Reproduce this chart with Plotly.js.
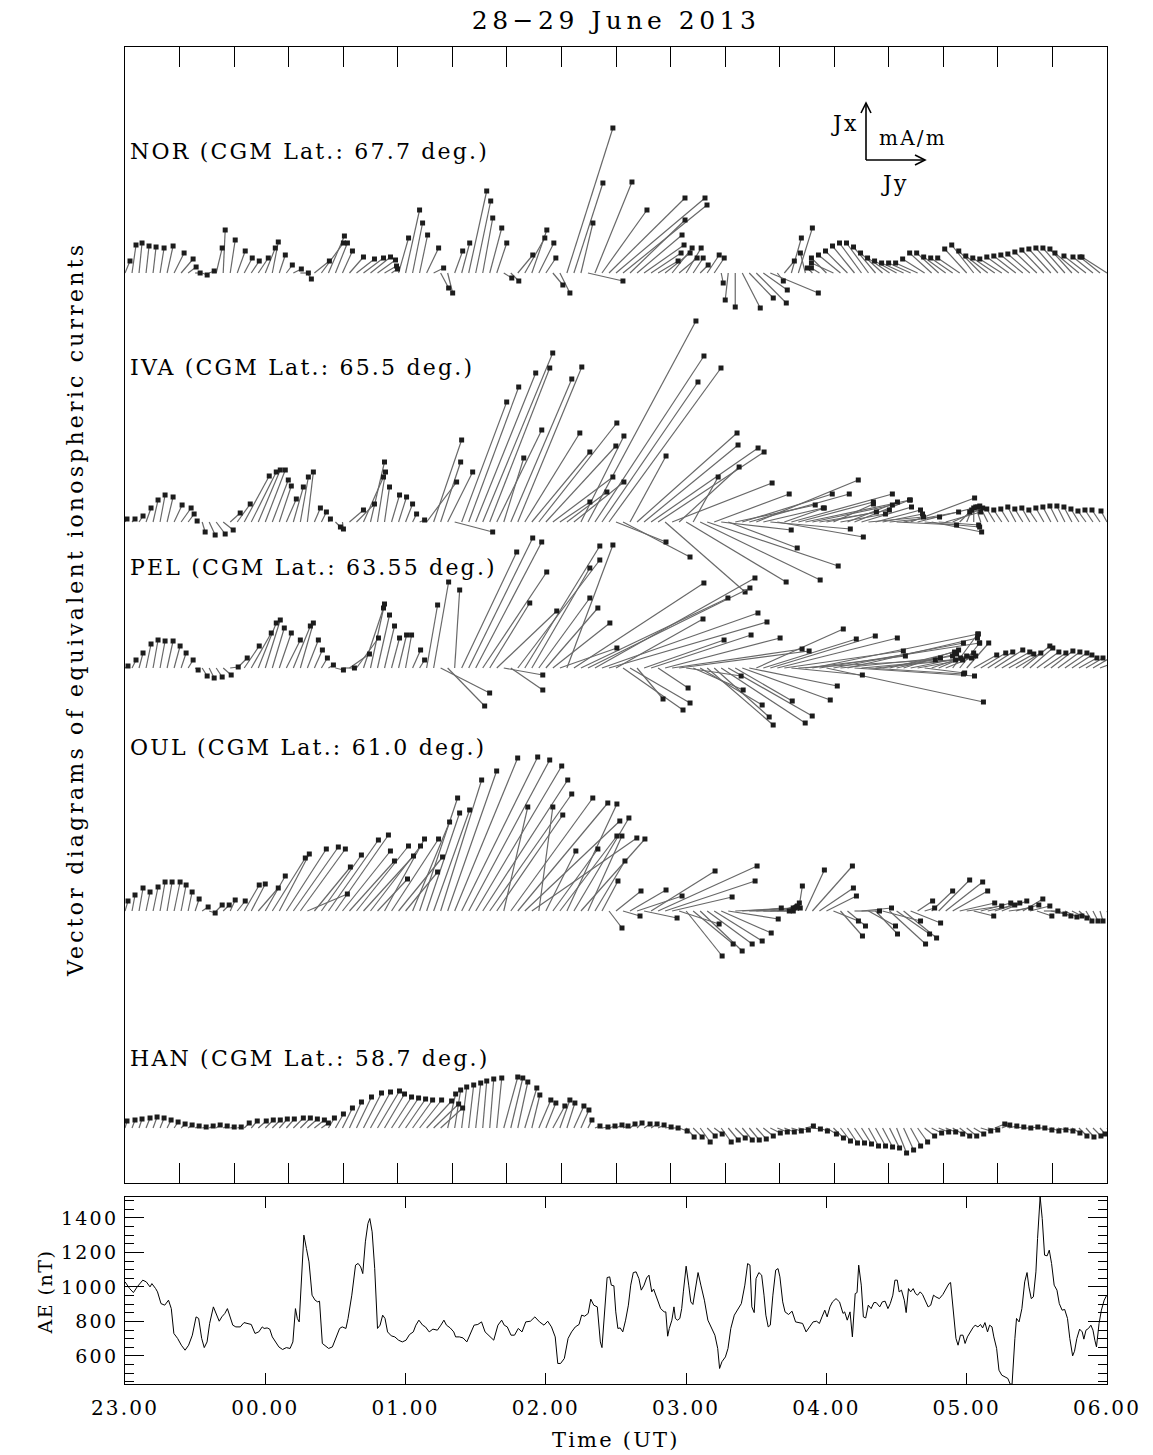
<!DOCTYPE html>
<html><head><meta charset="utf-8">
<script src="https://cdn.plot.ly/plotly-3.0.1.min.js"></script>
<style>
body{margin:0;background:#fff}
svg text{letter-spacing:2.2px}
.xtick text{letter-spacing:1.5px}
.ytick text{letter-spacing:0px}
</style>
</head><body>
<div id="chart" style="width:1153px;height:1455px"></div>
<script>
// ---------- DATA ----------
// sample times, minutes after 23:00 UT (28 June)
const TIMES = [0,3,6,9,12,15,18,21,24,27,30,33,36,39,42,45,48,51,54,57,60,63,66,69,72,75,78,81,84,87,90,93,96,99,102,105,108,111,114,117,120,123,126,129,132,135,138,141,144,147,150,153,156,159,162,165,168,171,174,177,180,183,186,189,192,195,198,201,204,207,210,213,216,219,222,225,228,231,234,237,240,243,246,249,252,255,258,261,264,267,270,273,276,279,282,285,288,291,294,297,300,303,306,309,312,315,318,321,324,327,330,333,336,339,342,345,348,351,354,357,360,363,366,369,372,375,378,381,384,387,390,393,396,399,402,405,408,411,414,417,420];

const STATION_LABELS = ['NOR (CGM Lat.: 67.7 deg.)','IVA (CGM Lat.: 65.5 deg.)','PEL (CGM Lat.: 63.55 deg.)','OUL (CGM Lat.: 61.0 deg.)','HAN (CGM Lat.: 58.7 deg.)'];

// equivalent current vectors (plot units): Jx = northward (up), Jy = eastward (right)
const NOR_JX = [12,28,30,27,26,25,27,20,14,6, 0,-2,2,25,43,33,22,15,12,15, 25,31,18,8,4,0,-6,12,30,37, 30,22,16,14,15,16,13,7,4,35, 63,50,38,25,5,-15,-20,22,30,82, 72,55,45,30,-5,-8,18,35,43,30, 15,-12,-20,145,90,50,-8,91,63,75, 75,68,53,38,28,20,12,20,25,15, 25,15,8,18,15,-10,-27,-34,-35,-25, -30,-17,-20,-8,12,35,45,20,5,5, 15,10,18,22,27,30,30,26,20,15, 12,10,10,10,14,20,20,16,15,15, 24,28,22,17,15,14,16,17,18,19, 21,23,24,25,25,24,20,17,16,16, 16];
const NOR_JY = [5,4,3,3,3,4,6,10,12,8, 5,5,5,6,2,5,8,8,8,10, 10,6,6,6,8,8,4,15,22,16, 12,10,14,18,20,20,18,12,6,10, 14,10,8,12,10,8,5,8,8,18, 15,10,12,10,8,8,15,20,15,15, 10,10,10,46,29,12,35,37,45,76, 89,84,55,45,40,30,20,25,20,18, 15,10,8,12,10,2,-3,0,18,24, 30,24,48,6,10,10,14,-5,-5,-8, -15,-22,-22,-22,-22,-22,-22,-22,-22,-22, -22,-22,-22,-22,-22,-22,-22,-22,-22,-22, -22,-22,-22,-22,-22,-22,-22,-22,-22,-22, -22,-22,-22,-22,-22,-22,-24,-22,-20,-20, -25];

const IVA_JX = [3,3,6,14,22,27,25,17,14,8, 1,-10,-13,-12,-8,9,18,46,50,52, 52,42,36,23,35,45,50,14,10,3, -5,-7,12,18,45,60,50,35,27,25, 18,8,2,40,82,60,50,-10,120,135, 149,169,154,92,64,143,155,89,70,99, 76,45,20,30,40,86,201,166,140,154, -20,-35,66,89,77,74,70,-70,39,55, -60,45,-58,-44,28,-8,-26,17,28,28, 42,14,-7,-15,14,28,20,22,17,12, 10,18,8,20,22,15,5,12,8,5, -3,10,24,15,-5,-10,-3,10,14,10, 12,14,15,16,13,12,13,15,13,14, 12,14,15,16,16,15,13,11,12,12, 11];
const IVA_JY = [2,3,4,5,5,5,6,8,10,6, 2,3,6,9,10,10,13,25,25,22, 20,16,12,10,10,8,6,6,5,2, 5,1,14,18,20,14,8,5,8,8, 7,4,5,30,28,20,25,38,45,50, 60,70,60,45,20,61,64,55,58,78, 70,60,30,40,50,43,108,109,96,112, 50,67,36,100,94,107,106,80,100,60, 100,25,120,131,75,70,69,80,90,100, 102,60,80,86,40,101,75,105,80,70, 50,40,45,50,55,50,55,45,40,50, 60,55,64,60,55,50,40,35,30,10, 5,0,-5,-8,-8,-8,-8,-8,-8,-8, -8,-8,-8,-8,-8,-8,-8,-8,-8,-8, -6];

const PEL_JX = [2,8,15,24,28,27,27,22,15,8, -2,-8,-10,-9,-7,1,10,22,35,45, 48,40,35,28,42,45,28,18,10,3, -2,0,14,30,60,64,53,42,30,33, 33,18,8,63,86,-25,-38,78,116,130, 126,96,65,57,-7,-22,108,122,100,70, 60,45,20,123,85,70,80,90,55,46, 49,-42,-35,-31,28,33,-20,30,19,17, -8,-22,-37,-57,-49,-55,-48,-33,-32,-18, 39,29,32,30,17,-7,8,12,34,25, -34,25,10,30,-8,10,-6,8,12,16, 14,18,10,8,-5,12,15,12,34,25, 25,13,15,16,18,16,14,15,22,20, 16,15,17,16,15,13,10,10,10,7, 8];
const PEL_JY = [3,4,4,5,5,5,6,6,5,5, 3,5,5,6,8,8,10,15,20,18, 15,12,12,14,17,13,11,8,6,5, 8,12,20,22,20,14,12,10,8,8, 6,8,5,11,15,49,37,5,55,64, 66,64,40,60,39,32,82,75,58,51, 52,57,57,46,130,147,162,160,156,158, 87,60,60,26,80,100,30,115,130,130, 55,50,62,66,55,84,84,57,88,88, 87,93,105,120,119,71,137,100,166,160, 157,130,100,130,120,110,95,80,70,65, 60,55,50,45,40,35,35,30,25,20, 22,23,25,25,28,28,25,25,27,23, 22,22,22,22,22,20,18,17,17,18, 21];

const OUL_JX = [10,16,23,19,24,29,29,29,26,19, 12,4,-2,6,6,11,10,26,27,23, 35,53,57,62,64,62,17,44,56,71, 76,60,50,65,55,65,32,72,72,54, 39,89,113,98,101,131,140,153,154,151, 145,131,117,96,104,113,108,90,73,104, 60,62,75,107,93,72,75,50,30,-17, 20,-5,21,15,-7,40,45,30,14,-13, -45,-33,-40,-33,-30,-22,-8,3,3,0, 3,0,3,5,8,4,25,41,45,23, 15,-10,-25,-15,0,3,-15,-23,-10,-33, -23,-27,-12,10,3,20,31,29,20,8, 5,-5,8,6,8,10,3,6,12,5, -5,0,-3,-5,-6,-5,-7,-10,-10,-10, -5];
const OUL_JY = [3,3,4,4,5,5,5,6,5,4, 4,6,6,6,6,5,8,15,14,20, 20,33,30,40,45,45,40,36,40,50, 53,48,45,52,50,50,30,40,47,44, 32,37,38,33,36,41,49,63,76,81, 86,85,82,66,24,82,90,95,105,14, 30,45,57,50,55,64,34,30,16,13, 25,17,36,45,33,64,99,90,60,40, 36,40,42,45,48,50,50,58,58,40, 25,30,25,20,15,5,4,19,40,34, 30,25,22,18,25,30,27,22,38,36, 33,33,30,15,10,21,31,37,35,35, 35,20,30,27,25,25,22,23,20,20, 15,14,14,13,12,10,8,6,5,3, 2];

const HAN_JX = [7,8,9,10,11,10,8,6,4,3, 2,1,2,3,2,1,1,5,7,7, 8,8,9,9,10,10,9,8,5,10, 14,20,26,31,35,36,37,34,31,30, 29,28,28,27,24,20,34,38,41,43, 45,47,49,50,51,50,46,40,33,28, 25,22,28,25,22,18,8,2,1,2, 3,2,4,5,4,4,3,1,0,-3, -9,-9,-14,-8,-6,-14,-12,-10,-12,-12, -11,-8,-5,-4,-4,-3,-2,2,-1,-3, -6,-10,-13,-15,-15,-16,-18,-18,-19,-20, -25,-22,-18,-14,-8,-5,-4,-4,-6,-8, -8,-6,-3,-2,4,3,2,1,0,1, 0,-2,-3,-2,-3,-5,-8,-9,-8,-6, -5];
const HAN_JY = [2,3,3,4,4,4,4,4,4,4, 4,4,4,4,4,4,4,5,6,8, 8,8,8,8,10,10,10,10,7,6, 8,10,12,15,18,20,22,20,20,20, 20,20,22,25,25,22,8,6,5,5, 5,4,4,5,14,12,10,12,8,12, 10,12,10,8,10,8,4,5,6,6, 6,5,5,5,6,6,6,6,6,8, 8,9,10,8,8,10,10,10,10,10, 10,10,10,10,10,10,10,8,8,8, 10,10,10,10,10,10,10,10,10,10, 10,10,10,10,10,10,10,10,10,10, 10,10,10,10,10,8,8,8,8,8, 8,8,8,8,8,8,8,8,8,5, 3];

// AE index (nT), time in minutes after 23:00 UT
const AE_T = [0,2.0,3.6,5.2,7.6,9.1,10.7,11.5,13.1,13.9,15.4,17.0,18.6,19.8,20.9,22.5,24.1,25.7,27.2,28.8,30.4,31.5,32.8,33.9,35.1,36.2,37.8,39.1,40.3,41.4,42.7,43.8,45.0,46.1,47.4,49.3,50.9,52.4,54.0,55.6,57.2,58.7,59.5,60.8,61.9,63.0,64.3,65.8,67.4,69.0,70.6,71.8,72.9,73.7,74.5,75.6,76.5,77.6,78.7,80.0,81.3,82.4,83.2,84.4,85.5,87.1,88.7,90.2,91.8,92.9,94.5,95.4,97.0,98.6,99.7,100.8,101.7,102.8,103.9,104.7,105.7,106.8,108.0,109.1,110.2,111.2,112.3,113.9,115.4,117.0,118.6,120.2,121.7,123.3,124.4,125.7,127.3,128.5,130.1,131.7,133.6,135.1,136.4,137.5,139.1,140.6,141.4,143.0,144.6,146.2,147.7,149.3,150.9,152.5,154.0,155.6,157.7,159.5,161.1,162.2,163.5,165.1,166.6,168.2,169.8,171.4,173.4,175.3,177.3,179.2,180.8,182.4,184.0,185.1,186.3,187.9,189.5,191.0,192.6,194.2,195.3,196.6,198.1,199.2,200.5,202.0,203.3,204.0,205.0,206.2,207.3,208.0,209.1,209.9,210.8,211.8,212.9,214.1,215.3,216.3,217.4,218.6,219.8,220.8,222.0,223.1,224.1,225.3,226.1,226.8,227.9,229.1,230.6,231.3,232.1,232.8,233.9,234.8,235.4,236.3,237.3,238.1,238.8,240.0,241.1,242.0,242.9,244.1,245.1,246.3,247.8,249.3,250.8,252.3,253.5,254.3,255.3,256.8,257.9,259.1,260.6,262.1,263.6,265.1,266.3,267.3,268.1,269.1,269.9,271.1,272.3,273.3,274.1,275.1,276.0,277.1,278.3,279.3,280.1,281.3,282.3,283.8,285.3,286.8,288.3,289.8,291.3,292.8,294.3,295.8,297.0,298.1,299.3,300.3,301.5,302.6,304.1,305.6,307.1,307.8,308.9,310.1,311.1,312.3,313.1,313.8,314.9,315.8,316.8,317.9,319.1,320.3,321.3,322.8,323.9,325.1,326.3,327.3,328.4,329.3,330.3,331.1,332.1,333.3,334.1,335.1,336.0,337.1,338.1,339.0,340.1,341.1,342.3,343.5,344.6,345.8,346.8,348.3,349.8,351.3,352.4,353.1,354.3,355.4,356.3,357.3,358.4,359.3,360.3,361.4,362.6,363.6,364.8,365.9,366.8,367.8,368.9,369.8,370.8,371.6,372.8,373.8,375.0,376.4,377.6,378.6,379.4,380.6,381.3,382.4,383.6,384.8,385.8,386.6,387.6,388.5,389.6,390.3,391.4,392.3,393.3,394.4,395.3,396.3,397.4,398.6,399.6,400.8,401.9,403.1,404.1,405.3,406.1,407.1,408.3,409.4,410.1,411.0,412.1,413.1,414.0,414.8,415.5,416.6,417.6,418.8,419.9];
const AE_V = [1029,990,967,1000,1039,1029,1000,1019,990,971,903,894,923,874,730,701,662,633,662,720,826,817,701,648,681,788,884,836,801,826,846,874,826,778,768,768,793,788,782,730,739,768,759,762,755,710,681,652,637,648,643,681,874,817,797,1068,1300,1222,1145,952,923,913,917,672,662,643,652,701,759,768,759,817,952,1126,1136,1116,1077,1261,1367,1396,1319,1106,759,778,836,817,739,716,710,691,681,691,724,739,778,807,778,768,739,755,749,778,807,778,762,739,710,710,704,681,730,778,782,797,739,720,691,778,807,778,768,720,720,759,739,797,801,826,797,778,801,768,710,556,556,585,701,739,768,782,836,830,846,929,894,884,681,648,817,1054,1058,1010,1006,855,759,762,739,807,894,1010,1083,1087,1048,981,1010,1052,1068,971,987,961,923,874,855,855,714,759,807,884,817,807,817,874,971,1120,1010,913,898,1010,1083,1010,923,807,768,720,643,527,566,594,643,759,836,874,903,1010,1135,1126,884,851,1048,1083,1068,952,836,768,778,952,1097,1106,1058,913,855,840,859,797,791,788,739,768,797,801,788,826,865,826,884,913,932,913,846,855,807,855,710,961,967,1126,1010,826,820,894,874,909,909,884,913,917,874,903,952,1039,1039,971,981,923,851,990,971,990,961,952,971,956,923,884,894,952,942,932,956,990,1019,1025,855,701,662,720,720,672,710,739,762,778,768,782,762,793,739,778,768,710,643,517,488,478,469,436,436,701,817,797,874,1029,1083,1000,932,942,1087,1280,1522,1396,1184,1180,1213,1135,1010,981,903,865,869,817,701,600,627,701,755,739,697,749,759,778,749,691,652,788,865,923,952];

const HOUR_TICKS = [0,60,120,180,240,300,360,420];
const HOUR_LABELS = ['23.00','00.00','01.00','02.00','03.00','04.00','05.00','06.00'];
const AE_TICKS = [600,800,1000,1200,1400];

// ---------- GEOMETRY / STYLE ----------
const W = 1153, H = 1455;
const PX0 = 125, PX1 = 1107;                 // plot left/right (px)
const TOP_Y0 = 47, TOP_Y1 = 1183;            // vector panel top/bottom (px)
const AE_Y0 = 1197, AE_Y1 = 1384;            // AE panel top/bottom (px)
const XDOM = [PX0 / W, PX1 / W];
const KX = 420 / (PX1 - PX0);                // minutes per vector unit (equal aspect)
const BASE = [910, 661, 515, 272, 55];       // station baselines (vector panel y units)
const LABEL_Y = [152, 367, 568, 748, 1058];  // station label centres (px)
const FONT = 'DejaVu Serif, Liberation Serif, serif';

const STATIONS = [[NOR_JX, NOR_JY], [IVA_JX, IVA_JY], [PEL_JX, PEL_JY], [OUL_JX, OUL_JY], [HAN_JX, HAN_JY]];

const traces = [];
STATIONS.forEach(([jx, jy], s) => {
  const b = BASE[s];
  const lx = [], ly = [], mx = [], my = [];
  for (let i = 0; i < TIMES.length; i++) {
    const t = TIMES[i];
    const ex = t + jy[i] * KX, ey = b + jx[i];
    lx.push(t, ex, null); ly.push(b, ey, null);
    mx.push(ex); my.push(ey);
  }
  traces.push({type: 'scatter', mode: 'lines', x: lx, y: ly, xaxis: 'x', yaxis: 'y',
    line: {color: '#686868', width: 1.2}, hoverinfo: 'skip', showlegend: false});
  traces.push({type: 'scatter', mode: 'markers', x: mx, y: my, xaxis: 'x', yaxis: 'y',
    marker: {symbol: 'square', size: 5, color: '#1c1c1c', line: {width: 0}},
    cliponaxis: false, hoverinfo: 'skip', showlegend: false});
});
traces.push({type: 'scatter', mode: 'lines', x: AE_T, y: AE_V, xaxis: 'x2', yaxis: 'y2',
  line: {color: '#000', width: 1}, hoverinfo: 'skip', showlegend: false});

const topTicks = [];
for (let k = 1; k < 18; k++) topTicks.push(420 * k / 18);

const P = (px, py) => [px / W, 1 - py / H];
const annotations = [];
function ann(text, px, py, size, opts) {
  const [x, y] = P(px, py);
  annotations.push(Object.assign({text, x, y, xref: 'paper', yref: 'paper', showarrow: false,
    xanchor: 'center', yanchor: 'middle', font: {family: FONT, size, color: '#000'}}, opts || {}));
}
ann('28\u221229 June 2013', 616, 21, 25);
ann('Vector diagrams of equivalent ionospheric currents', 75, 610, 22, {textangle: -90});
ann('AE (nT)', 45, 1292, 19, {textangle: -90});
ann('Time (UT)', 616, 1440, 21);
STATION_LABELS.forEach((lab, s) => ann(lab, 128, LABEL_Y[s], 22, {xanchor: 'left'}));
ann('Jx', 845, 123, 22);
ann('mA/m', 877, 138, 20, {xanchor: 'left'});
ann('Jy', 895, 183, 22);

function path(pts) {
  return pts.map((p, i) => { const [x, y] = P(p[0], p[1]); return (i ? 'L' : 'M') + x + ',' + y; }).join(' ');
}
const shapes = [
  {type: 'path', xref: 'paper', yref: 'paper', path: path([[866, 160], [866, 103]]), line: {color: '#000', width: 1.6}},
  {type: 'path', xref: 'paper', yref: 'paper', path: path([[861, 113], [866, 103], [871, 113]]), line: {color: '#000', width: 1.6}},
  {type: 'path', xref: 'paper', yref: 'paper', path: path([[866, 160], [925, 160]]), line: {color: '#000', width: 1.6}},
  {type: 'path', xref: 'paper', yref: 'paper', path: path([[915, 155], [925, 160], [915, 165]]), line: {color: '#000', width: 1.6}}
];

const axBase = {showgrid: false, zeroline: false, showline: true, linecolor: '#000', linewidth: 1,
  tickcolor: '#000', tickwidth: 1};

const layout = {
  width: W, height: H, margin: {l: 0, r: 0, t: 0, b: 0},
  paper_bgcolor: '#fff', plot_bgcolor: '#fff', showlegend: false,
  font: {family: FONT, size: 20, color: '#000'},
  xaxis: Object.assign({}, axBase, {domain: XDOM, range: [0, 420], anchor: 'y', showticklabels: false,
    tickmode: 'array', tickvals: topTicks, ticks: 'inside', ticklen: 20, mirror: 'ticks'}),
  yaxis: Object.assign({}, axBase, {domain: [1 - TOP_Y1 / H, 1 - TOP_Y0 / H], range: [0, TOP_Y1 - TOP_Y0],
    anchor: 'x', showticklabels: false, ticks: '', mirror: true}),
  xaxis2: Object.assign({}, axBase, {domain: XDOM, range: [0, 420], anchor: 'y2',
    tickmode: 'array', tickvals: HOUR_TICKS, ticktext: HOUR_LABELS, ticks: 'inside', ticklen: 11,
    mirror: 'ticks', tickfont: {family: FONT, size: 20, color: '#000'}, ticklabelstandoff: 6}),
  yaxis2: Object.assign({}, axBase, {domain: [1 - AE_Y1 / H, 1 - AE_Y0 / H], range: [437, 1521], anchor: 'x2',
    tickmode: 'array', tickvals: AE_TICKS, ticks: 'inside', ticklen: 19, mirror: 'ticks',
    tickfont: {family: FONT, size: 19, color: '#000'}, ticklabelstandoff: 2,
    minor: {tickmode: 'linear', tick0: 0, dtick: 50, ticks: 'inside', ticklen: 9, tickcolor: '#000', tickwidth: 1, showgrid: false}}),
  annotations, shapes
};

Plotly.newPlot('chart', traces, layout, {staticPlot: true, displayModeBar: false}).then(() => {
  // wide Hershey-like spacing for the large titles
  document.querySelectorAll('.annotation').forEach(g => {
    const t = g.querySelector('text');
    if (!t) return;
    const s = t.textContent;
    if (s.startsWith('28')) t.style.letterSpacing = '4.5px';
    else if (s.startsWith('Vector')) t.style.letterSpacing = '3.2px';
    else if (s.startsWith('AE')) t.style.letterSpacing = '1.5px';
  });
});
</script>
</body></html>
